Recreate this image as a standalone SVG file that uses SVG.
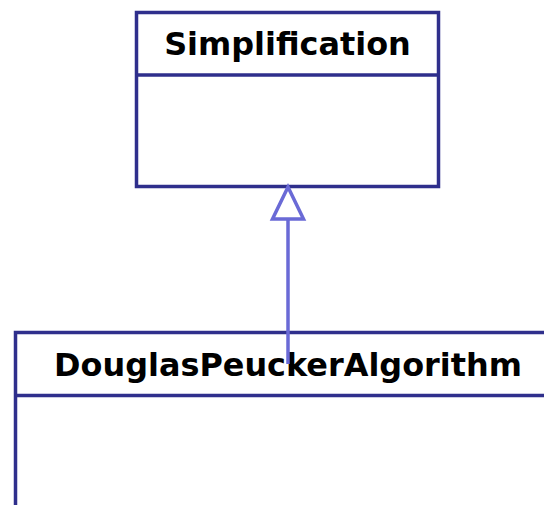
<svg xmlns="http://www.w3.org/2000/svg" width="544" height="505" viewBox="0 0 544 505">
  <style>
    .box { fill: #ffffff; stroke: #2f2f8c; stroke-width: 3.5; }
    .sep { stroke: #2f2f8c; stroke-width: 3.5; }
    .name { font-family: "DejaVu Sans", Verdana, sans-serif; font-weight: bold; font-size: 31.9px; fill: #000000; text-anchor: middle; }
    .gen { stroke: #6a6ad6; stroke-width: 3.5; fill: none; }
    .gen-head { stroke: #6a6ad6; stroke-width: 3.5; fill: #ffffff; stroke-linejoin: miter; }
  </style>
  <rect width="544" height="505" fill="#ffffff"/>

  <!-- subclass, extends past the canvas -->
  <g id="DouglasPeuckerAlgorithm">
    <rect class="box" x="15.5" y="332.5" width="545" height="190"/>
    <line class="sep" x1="15.5" y1="395.5" x2="560.5" y2="395.5"/>
    <text class="name" x="288" y="376">DouglasPeuckerAlgorithm</text>
  </g>

  <g id="Simplification">
    <rect class="box" x="136.5" y="12.5" width="302" height="174"/>
    <line class="sep" x1="136.5" y1="75" x2="438.5" y2="75"/>
    <text class="name" x="287.5" y="55">Simplification</text>
  </g>

  <!-- generalization: DouglasPeuckerAlgorithm extends Simplification -->
  <g id="connectors">
    <line class="gen" x1="288" y1="219" x2="288" y2="364"/>
    <polygon class="gen-head" points="288,187 272.5,219 303.5,219"/>
  </g>
</svg>
